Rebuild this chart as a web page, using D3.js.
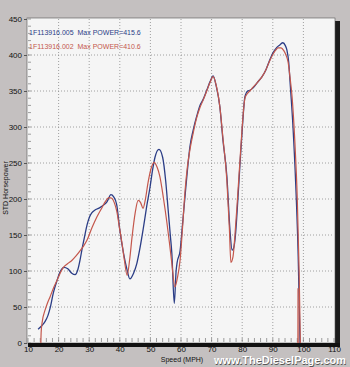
<!DOCTYPE html>
<html><head><meta charset="utf-8">
<script src="https://cdn.jsdelivr.net/npm/d3@7"></script>
<style>html,body{margin:0;padding:0;background:#c2bebe;}svg{display:block;}</style>
</head><body>
<script>
const blueSpeed = [13.3,14.5,15.6,16.5,17.2,18.3,19.5,20.5,21.8,23.0,24.3,25.4,26.3,27.0,27.6,28.5,29.3,30.1,30.9,32.0,33.5,34.8,35.8,37.1,38.0,39.0,40.0,41.2,42.3,43.3,44.5,45.6,46.6,47.6,48.8,49.9,50.7,51.5,52.8,54.0,55.0,55.8,56.5,57.0,57.8,58.4,58.7,59.7,60.5,61.3,62.1,62.9,64.0,65.2,66.2,67.2,68.5,69.5,70.5,71.5,72.7,73.7,75.0,76.0,76.7,77.2,77.8,78.3,79.3,80.0,80.9,81.8,82.5,83.5,85.0,86.5,87.8,89.0,90.2,91.4,92.3,93.3,94.1,94.6,95.2,95.6,96.6,97.5,98.3,98.9];
const blueHp = [19,24,30,38,48,70,87,99,105,103,97,95,102,115,129,148,164,175,181,185,188,192,196,206,203,192,157,125,103,89,97,111,132,157,190,217,240,258,269,258,225,185,150,125,55,100,111,128,165,203,240,272,296,316,330,338,352,363,371,357,328,282,231,157,129,132,150,180,250,296,342,350,351,354,362,370,380,393,404,411,414,417,413,407,390,365,300,220,120,0];
const redSpeed = [14.2,14.3,14.6,15.6,16.4,17.2,18.3,19.5,20.5,21.4,22.9,24.4,25.7,27.0,28.2,29.3,30.9,32.5,34.3,35.2,36.5,37.4,38.2,39.0,39.9,40.7,41.5,42.4,43.2,44.0,45.0,46.0,46.8,47.6,48.3,49.2,50.2,51.2,52.2,53.1,54.3,55.4,56.2,57.0,58.0,58.8,59.7,60.5,61.3,62.1,62.9,64.0,65.2,66.2,67.2,68.5,69.5,70.5,71.5,72.7,73.7,75.0,75.8,76.3,77.0,77.8,78.3,79.3,80.0,80.9,81.8,82.5,83.5,85.0,86.5,87.8,89.0,90.2,91.0,91.7,92.7,93.6,94.3,95.0,95.6,96.3,97.2,98.0,98.6,99.0];
const redHp = [0,15,28,46,56,64,76,87,97,104,110,115,121,128,135,143,160,175,189,196,202,201,195,183,160,139,115,94,115,147,180,198,195,187,198,222,242,251,244,231,200,167,140,111,78,90,115,160,210,245,268,292,314,327,337,351,362,370,358,328,285,225,160,112,120,160,190,255,300,340,347,350,355,362,370,380,392,402,407,410,410,406,400,390,370,342,280,200,100,0];
const redSpikeSpeed = [98.2,98.25,98.3];
const redSpikeHp = [0,76,0];
const xTicks = [10,20,30,40,50,60,70,80,90,100,110];
const yTicks = [0,50,100,150,200,250,300,350,400,450];
const legendLabels = ["1F113916.005  Max POWER=415.6","1F113916.002  Max POWER=410.6"];
const seriesColors = ["#2b3d86","#c4574c"];

const W=350,H=367;
const svg=d3.select("body").append("svg").attr("width",W).attr("height",H);
const x=d3.scaleLinear().domain([10,110]).range([28,334]);
const y=d3.scaleLinear().domain([0,450]).range([343,19]);
const font="Liberation Sans, Arial, sans-serif";

svg.append("rect").attr("width",W).attr("height",H).attr("fill","#c4c0c0");
svg.append("rect").attr("x",30).attr("y",21).attr("width",310).attr("height",326).attr("fill","#1c1c1c");
svg.append("rect").attr("x",27).attr("y",18).attr("width",308).attr("height",325).attr("fill","#f5f5f5").attr("stroke","#555").attr("stroke-width",0.6);

const g=svg.append("g");
g.selectAll(".vg").data(xTicks.filter(d=>d>10&&d<110)).join("line")
 .attr("x1",d=>x(d)).attr("x2",d=>x(d)).attr("y1",19).attr("y2",343)
 .attr("stroke","#8a8a8a").attr("stroke-width",0.8).attr("stroke-dasharray","1,2");
g.selectAll(".hg").data(yTicks.filter(d=>d>0&&d<450)).join("line")
 .attr("x1",28).attr("x2",334).attr("y1",d=>y(d)).attr("y2",d=>y(d))
 .attr("stroke","#8a8a8a").attr("stroke-width",0.8).attr("stroke-dasharray","1,2");

g.selectAll(".ym").data(d3.range(0,451,10)).join("line")
 .attr("x1",28).attr("x2",31).attr("y1",d=>y(d)).attr("y2",d=>y(d))
 .attr("stroke","#777").attr("stroke-width",0.7);
g.selectAll(".xm").data(d3.range(10,111,2)).join("line")
 .attr("x1",d=>x(d)).attr("x2",d=>x(d)).attr("y1",338).attr("y2",342)
 .attr("stroke","#777").attr("stroke-width",0.7);

const yAxis=svg.append("g").attr("transform","translate(27,0)")
 .call(d3.axisLeft(y).tickValues(yTicks).tickSize(3).tickPadding(2));
yAxis.select(".domain").remove();
yAxis.selectAll("line").attr("stroke","#555");
yAxis.selectAll("text").attr("font-family",font).attr("font-size",8).attr("fill","#111");

const xAxis=svg.append("g").attr("transform","translate(0,345)")
 .call(d3.axisBottom(x).tickValues(xTicks).tickSize(0).tickPadding(1));
xAxis.select(".domain").remove();
xAxis.selectAll("text").attr("font-family",font).attr("font-size",8).attr("fill","#111");

svg.append("rect").attr("x",28).attr("y",343).attr("width",312).attr("height",4).attr("fill","#111");

const line=d3.line().curve(d3.curveMonotoneX);
const blueData=blueSpeed.map((s,i)=>[x(s),y(blueHp[i])]);
const redData=redSpeed.map((s,i)=>[x(s),y(redHp[i])]);
const spikeData=redSpikeSpeed.map((s,i)=>[x(s),y(redSpikeHp[i])]);
svg.append("path").attr("d",line(blueData)).attr("fill","none").attr("stroke",seriesColors[0]).attr("stroke-width",1.3);
svg.append("path").attr("d",line(redData)).attr("fill","none").attr("stroke",seriesColors[1]).attr("stroke-width",1.2);
svg.append("path").attr("d",d3.line()(spikeData)).attr("fill","none").attr("stroke",seriesColors[1]).attr("stroke-width",1.2);

legendLabels.forEach((t,i)=>{
  svg.append("text").attr("x",29).attr("y",35+i*14).text(t).attr("xml:space","preserve")
   .attr("font-family",font).attr("font-size",7).attr("fill",seriesColors[i]);
});

svg.append("text").attr("transform","translate(8,188) rotate(-90)").attr("text-anchor","middle")
 .attr("font-family",font).attr("font-size",7).attr("fill","#111").text("STD Horsepower");
svg.append("text").attr("x",182).attr("y",362).attr("text-anchor","middle")
 .attr("font-family",font).attr("font-size",7).attr("fill","#111").text("Speed (MPH)");

[["#555",0.6],["#fff",0]].forEach(([c,o])=>{
  svg.append("text").attr("x",214+o).attr("y",364.3+o).text("www.TheDieselPage.com")
   .attr("textLength",132).attr("lengthAdjust","spacingAndGlyphs")
   .attr("font-family",font).attr("font-size",10).attr("font-weight","bold").attr("fill",c);
});
</script>
</body></html>
